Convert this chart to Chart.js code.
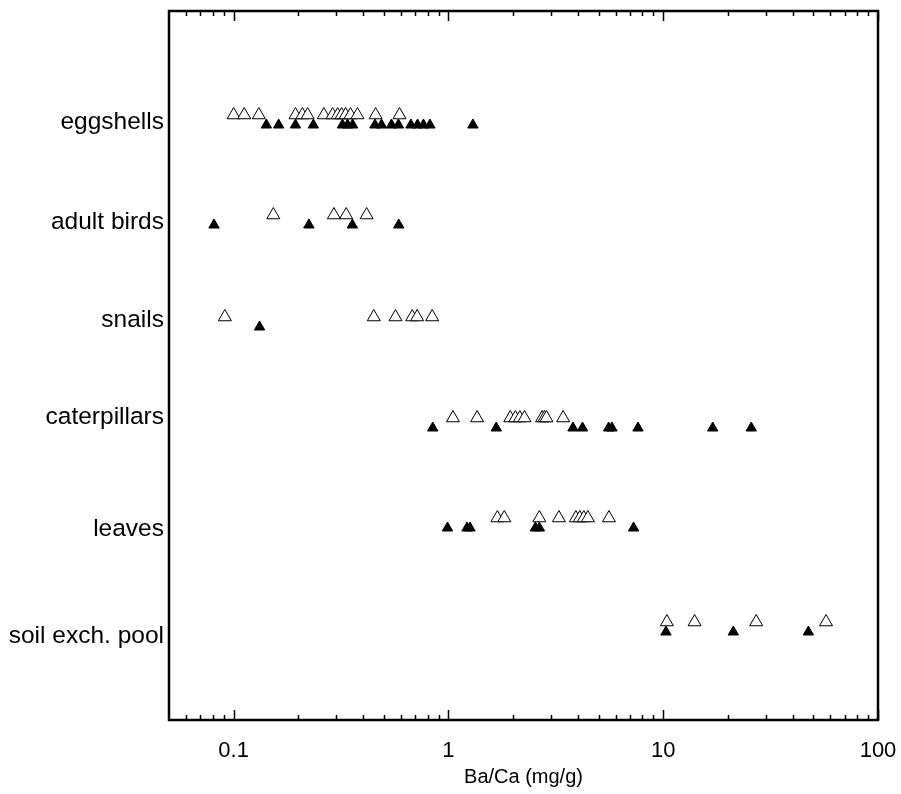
<!DOCTYPE html>
<html>
<head>
<meta charset="utf-8">
<script src="https://cdn.jsdelivr.net/npm/chart.js@4/dist/chart.umd.min.js"></script>
<style>
  html, body { margin: 0; padding: 0; background: #fff; }
  #wrap { width: 901px; height: 794px; position: relative; }
</style>
</head>
<body>
<div id="wrap"><canvas id="chart"></canvas></div>
<script>
// categories, top to bottom
const categories = ['eggshells', 'adult birds', 'snails', 'caterpillars', 'leaves', 'soil exch. pool'];
// row position of each label and of each row of triangles (y units)
const labelY = [5.98, 4.98, 4.0, 3.03, 1.91, 0.84];
const rowY = [6.0, 5.0, 3.98, 2.97, 1.97, 0.93];

// Ba/Ca (mg/g), open triangles
const eggshellsOpen = [0.100, 0.112, 0.131, 0.194, 0.209, 0.221, 0.263, 0.289, 0.305, 0.318, 0.332, 0.350, 0.377, 0.458, 0.592];
const birdsOpen = [0.153, 0.293, 0.334, 0.416];
const snailsOpen = [0.091, 0.449, 0.567, 0.678, 0.715, 0.840];
const caterpillarsOpen = [1.05, 1.36, 1.94, 2.05, 2.15, 2.26, 2.73, 2.80, 2.86, 3.42];
const leavesOpen = [1.69, 1.82, 2.65, 3.27, 3.92, 4.09, 4.27, 4.46, 5.59];
const soilOpen = [10.4, 14.0, 27.1, 57.3];

// Ba/Ca (mg/g), filled triangles
const eggshellsFilled = [0.142, 0.162, 0.194, 0.235, 0.321, 0.339, 0.358, 0.455, 0.488, 0.543, 0.585, 0.669, 0.718, 0.765, 0.820, 1.30];
const birdsFilled = [0.081, 0.224, 0.357, 0.587];
const snailsFilled = [0.132];
const caterpillarsFilled = [0.845, 1.67, 3.80, 4.21, 5.57, 5.77, 7.63, 17.0, 25.7];
const leavesFilled = [0.99, 1.22, 1.26, 2.54, 2.65, 7.28];
const soilFilled = [10.3, 21.2, 47.4];

const openSeries = [eggshellsOpen, birdsOpen, snailsOpen, caterpillarsOpen, leavesOpen, soilOpen];
const filledSeries = [eggshellsFilled, birdsFilled, snailsFilled, caterpillarsFilled, leavesFilled, soilFilled];

// x axis ticks
const majorTicks = [0.1, 1, 10, 100];
const minorTicks = [0.06, 0.07, 0.08, 0.09,
  0.2, 0.3, 0.4, 0.5, 0.6, 0.7, 0.8, 0.9,
  2, 3, 4, 5, 6, 7, 8, 9,
  20, 30, 40, 50, 60, 70, 80, 90];

const toPoints = (series, offset) => {
  let pts = [];
  series.forEach((vals, i) => {
    vals.forEach(v => pts.push({ x: v, y: rowY[i] + offset }));
  });
  return pts;
};

// frame and inward tick marks
const framePlugin = {
  id: 'frame',
  afterDraw(chart) {
    const { ctx, chartArea: a, scales: { x } } = chart;
    ctx.save();
    ctx.strokeStyle = '#000';
    ctx.lineWidth = 1.5;
    const tick = (v, len) => {
      const px = Math.round(x.getPixelForValue(v)) + 0.5;
      ctx.beginPath();
      ctx.moveTo(px, a.bottom);
      ctx.lineTo(px, a.bottom - len);
      ctx.moveTo(px, a.top);
      ctx.lineTo(px, a.top + len);
      ctx.stroke();
    };
    majorTicks.forEach(v => tick(v, 10));
    minorTicks.forEach(v => tick(v, 5));
    ctx.lineWidth = 2.5;
    ctx.strokeRect(a.left, a.top, a.right - a.left, a.bottom - a.top);
    ctx.restore();
  }
};

const noPadding = (scale) => {
  scale.paddingLeft = 0;
  scale.paddingRight = 0;
  scale.paddingTop = 0;
  scale.paddingBottom = 0;
};

const font = '"Liberation Sans", Arial, Helvetica, sans-serif';

new Chart(document.querySelector('#chart'), {
  type: 'scatter',
  data: {
    datasets: [
      {
        label: 'open',
        data: toPoints(openSeries, 0.05),
        pointStyle: 'triangle',
        pointRadius: 7.5,
        backgroundColor: '#fff',
        borderColor: '#000',
        borderWidth: 1
      },
      {
        label: 'filled',
        data: toPoints(filledSeries, -0.05),
        pointStyle: 'triangle',
        pointRadius: 6,
        backgroundColor: '#000',
        borderColor: '#000',
        borderWidth: 1
      }
    ]
  },
  options: {
    responsive: true,
    maintainAspectRatio: false,
    animation: false,
    events: [],
    layout: { padding: { top: 11, right: 23, bottom: 0, left: 0 } },
    plugins: { legend: { display: false }, tooltip: { enabled: false } },
    scales: {
      x: {
        type: 'logarithmic',
        min: 0.05,
        max: 100,
        grid: { display: false, drawTicks: false, tickLength: 0 },
        border: { display: false },
        afterBuildTicks: (scale) => {
          scale.ticks = majorTicks.map(v => ({ value: v }));
        },
        afterFit: (scale) => { scale.height = 74; noPadding(scale); },
        ticks: {
          color: '#000',
          padding: 18,
          maxRotation: 0,
          autoSkip: false,
          font: { family: font, size: 22 },
          callback: (v) => String(v)
        },
        title: {
          display: true,
          text: 'Ba/Ca (mg/g)',
          color: '#000',
          font: { family: font, size: 20 },
          padding: { top: 0, bottom: 5 }
        }
      },
      y: {
        type: 'linear',
        min: 0,
        max: 7.09,
        grid: { display: false, drawTicks: false, tickLength: 0 },
        border: { display: false },
        afterBuildTicks: (scale) => {
          scale.ticks = labelY.map(v => ({ value: v }));
        },
        afterFit: (scale) => { scale.width = 169; noPadding(scale); },
        ticks: {
          color: '#000',
          padding: 5,
          autoSkip: false,
          font: { family: font, size: 24.5 },
          callback: (v, i) => categories[i]
        }
      }
    }
  },
  plugins: [framePlugin]
});
</script>
</body>
</html>
